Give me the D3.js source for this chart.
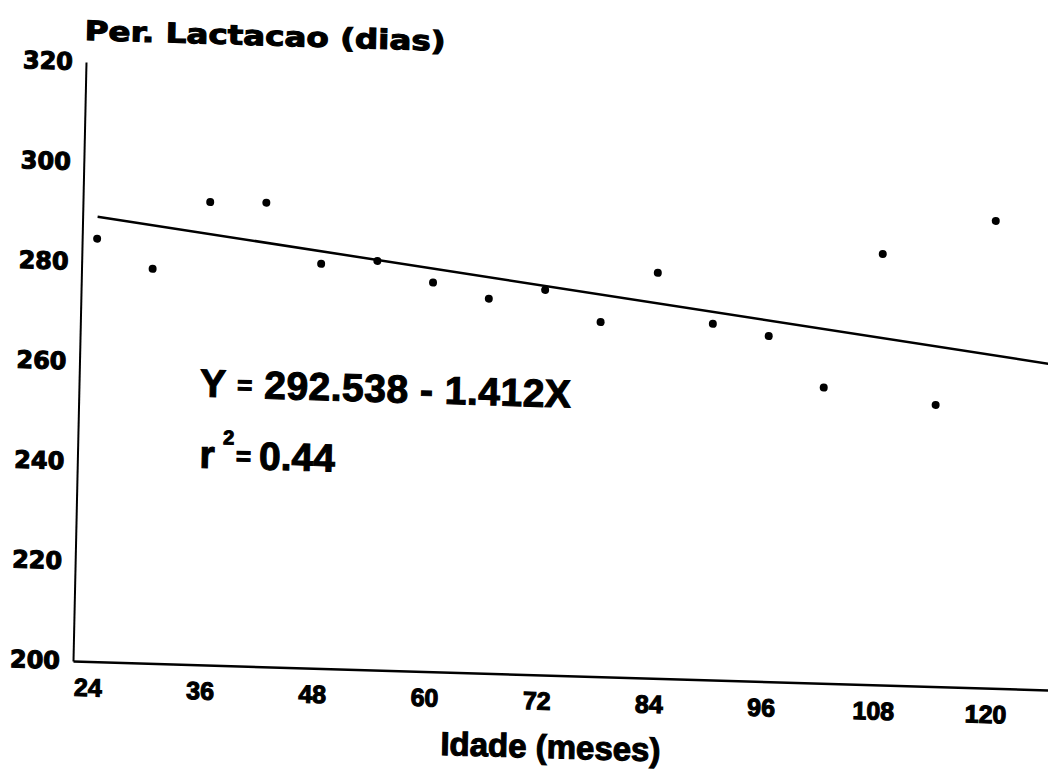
<!DOCTYPE html>
<html>
<head>
<meta charset="utf-8">
<script src="https://cdn.jsdelivr.net/npm/d3@7"></script>
<style>
    body { margin: 0; background: #fff; }
    svg { display: block; }
    text { fill: #000; stroke: #000; stroke-width: 1.1px; }
</style>
</head>
<body>
<div id="chart"></div>
<script>
// age (months) and lactation length (days)
var ages = [24, 30, 36, 42, 48, 54, 60, 66, 72, 78, 84, 90, 96, 102, 108, 114, 120];
var lactDays = [284.7, 279.0, 292.7, 292.9, 281.0, 281.9, 277.9, 275.0, 277.1, 271.0, 281.2, 271.3, 269.2, 259.2, 286.3, 256.4, 293.6];

// fitted line as drawn (two ends)
var fitAges = [24, 126];
var fitDays = [289.1, 265.3];

var xTicks = [24, 36, 48, 60, 72, 84, 96, 108, 120];
var yTicks = [200, 220, 240, 260, 280, 300, 320];

var width = 1048, height = 769;

var svg = d3.select("#chart")
    .append("svg")
    .attr("width", width)
    .attr("height", height);

// the scan is a little skewed, so the whole frame is sheared to match it
var g = svg.append("g")
    .attr("transform", "matrix(1,0.0297,-0.0217,1,73,661)");

var x = d3.scaleLinear().domain([22.4, 126.67]).range([0, 975]);
var y = d3.scaleLinear().domain([200, 320]).range([0, -599]);

// y axis
var yAxis = g.append("g")
    .call(d3.axisLeft(y).tickValues(yTicks).tickSize(0).tickSizeOuter(0).tickPadding(13));
yAxis.select(".domain").attr("stroke", "#000").attr("stroke-width", 2);
yAxis.selectAll("text")
    .style("font-family", "DejaVu Sans")
    .style("font-weight", "bold")
    .style("font-size", "24px");

// x axis
var xAxis = g.append("g")
    .call(d3.axisBottom(x).tickValues(xTicks).tickSize(0).tickSizeOuter(0).tickPadding(17));
xAxis.select(".domain").attr("stroke", "#000").attr("stroke-width", 2.5);
xAxis.selectAll("text")
    .style("font-family", "Liberation Sans")
    .style("font-weight", "bold")
    .style("font-size", "25px");

// regression line
var line = d3.line()
    .x(function(d) { return x(d[0]); })
    .y(function(d) { return y(d[1]); });

g.append("path")
    .datum(d3.zip(fitAges, fitDays))
    .attr("d", line)
    .attr("fill", "none")
    .attr("stroke", "#000")
    .attr("stroke-width", 2.5);

// points
g.selectAll("circle.pt")
    .data(d3.zip(ages, lactDays))
    .enter()
    .append("circle")
    .attr("class", "pt")
    .attr("cx", function(d) { return x(d[0]); })
    .attr("cy", function(d) { return y(d[1]); })
    .attr("r", 4)
    .attr("fill", "#000");

// titles
g.append("text")
    .attr("x", -2)
    .attr("y", -621)
    .attr("textLength", 361)
    .attr("lengthAdjust", "spacingAndGlyphs")
    .style("font-family", "DejaVu Sans")
    .style("font-weight", "bold")
    .style("font-size", "27px")
    .text("Per. Lactacao (dias)");

g.append("text")
    .attr("x", 479)
    .attr("y", 83)
    .attr("text-anchor", "middle")
    .style("font-family", "Liberation Sans")
    .style("font-weight", "bold")
    .style("font-size", "33px")
    .text("Idade (meses)");

// equation
var eq = g.append("text")
    .attr("x", 121)
    .attr("y", -268)
    .style("font-family", "Liberation Sans")
    .style("font-weight", "bold")
    .style("font-size", "39px")
    .style("letter-spacing", "0.5px");
eq.append("tspan").text("Y ");
eq.append("tspan").attr("dy", -4).style("font-size", "26px").text("=");
eq.append("tspan").attr("dy", 4).text(" 292.538 - 1.412X");

var r2 = g.append("text")
    .attr("x", 122)
    .attr("y", -197)
    .style("font-family", "Liberation Sans")
    .style("font-weight", "bold")
    .style("font-size", "39px");
r2.append("tspan").text("r");
r2.append("tspan").attr("dx", 8).attr("dy", -24).style("font-size", "20px").text("2");
r2.append("tspan").attr("dx", 2).attr("dy", 20).style("font-size", "26px").text("=");
r2.append("tspan").attr("dx", 8).attr("dy", 4).text("0.44");
</script>
</body>
</html>
